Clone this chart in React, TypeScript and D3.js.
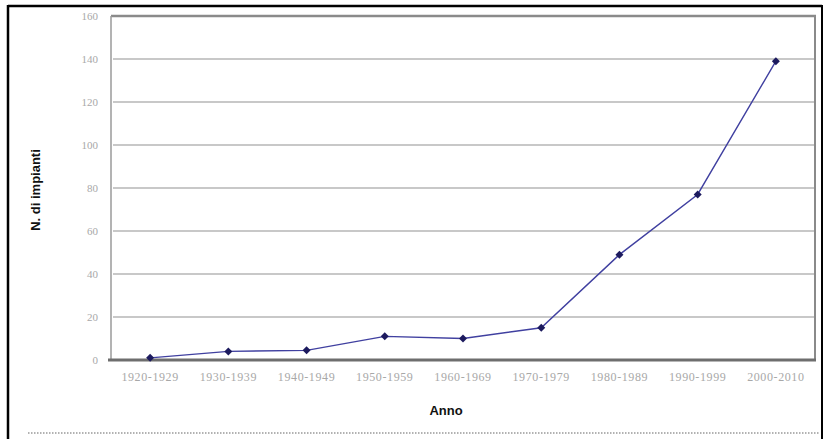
import React from "react";
import * as d3 from "d3";

const categories = [
  "1920-1929",
  "1930-1939",
  "1940-1949",
  "1950-1959",
  "1960-1969",
  "1970-1979",
  "1980-1989",
  "1990-1999",
  "2000-2010",
];
const values = [1, 4, 4.5, 11, 10, 15, 49, 77, 139];
const yTicks = [0, 20, 40, 60, 80, 100, 120, 140, 160];
const yTitle = "N. di impianti";
const xTitle = "Anno";

const W = 829;
const H = 439;
const M = { left: 111, right: 815, top: 16, bottom: 360 };

export default function App() {
  const x = d3.scaleBand<string>().domain(categories).range([M.left, M.right]).padding(0);
  const y = d3.scaleLinear().domain([0, 160]).range([M.bottom, M.top]);
  const cx = (c: string) => (x(c) ?? 0) + x.bandwidth() / 2;
  const line = d3
    .line<number>()
    .x((_, i) => cx(categories[i]))
    .y((d) => y(d));
  const r = 4;
  const diamond = `M0,${-r}L${r},0L0,${r}L${-r},0Z`;
  const sans = "'Liberation Sans', Arial, sans-serif";

  return (
    <svg
      width={W}
      height={H}
      style={{ position: "absolute", left: 0, top: 0, background: "#fff" }}
    >
      <rect x={0} y={0} width={W} height={H} fill="#fff" />
      {/* outer frame */}
      <line x1={8} y1={6} x2={822} y2={6} stroke="#000" strokeWidth={2.5} />
      <line x1={8} y1={5} x2={8} y2={H} stroke="#000" strokeWidth={2.5} />
      <line x1={822} y1={5} x2={822} y2={H} stroke="#000" strokeWidth={2} />
      {/* dotted line at bottom */}
      <line
        x1={28}
        y1={433}
        x2={820}
        y2={433}
        stroke="#999"
        strokeWidth={1.5}
        strokeDasharray="1.5,1.5"
      />

      {/* gridlines */}
      {yTicks
        .filter((t) => t > 0 && t < 160)
        .map((t) => (
          <line
            key={t}
            x1={M.left + 2}
            x2={M.right}
            y1={y(t)}
            y2={y(t)}
            stroke="#c8c8c8"
            strokeWidth={2}
          />
        ))}
      {/* plot borders */}
      <line x1={M.left} x2={M.right + 1} y1={M.top} y2={M.top} stroke="#8a8a8a" strokeWidth={2.5} />
      <line x1={M.right} x2={M.right} y1={M.top} y2={M.bottom} stroke="#8a8a8a" strokeWidth={2} />
      <line x1={M.left} x2={M.left} y1={M.top} y2={M.bottom} stroke="#9a9a9a" strokeWidth={1.5} />
      <line x1={M.left - 3} x2={M.right + 1} y1={M.bottom} y2={M.bottom} stroke="#6e6e6e" strokeWidth={3} />

      {/* y tick labels */}
      {yTicks.map((t) => (
        <text
          key={t}
          x={98}
          y={y(t)}
          dy="0.35em"
          textAnchor="end"
          fontFamily="'Liberation Serif', serif"
          fontSize={11}
          fill="#a8a8a8"
        >
          {t}
        </text>
      ))}

      {/* x tick labels */}
      {categories.map((c) => (
        <text
          key={c}
          x={cx(c)}
          y={381}
          textAnchor="middle"
          fontFamily="'Liberation Serif', serif"
          fontSize={12}
          letterSpacing={0.6}
          fill="#a8a8a8"
        >
          {c}
        </text>
      ))}

      {/* series */}
      <path d={line(values) ?? ""} fill="none" stroke="#4040a0" strokeWidth={1.4} />
      {values.map((v, i) => (
        <path
          key={i}
          d={diamond}
          transform={`translate(${cx(categories[i])},${y(v)})`}
          fill="#1c1a5e"
        />
      ))}

      {/* axis titles */}
      <text
        transform={`translate(40,190) rotate(-90)`}
        textAnchor="middle"
        fontFamily={sans}
        fontWeight="bold"
        fontSize={13}
        fill="#111"
      >
        {yTitle}
      </text>
      <text
        x={446}
        y={415}
        textAnchor="middle"
        fontFamily={sans}
        fontWeight="bold"
        fontSize={13}
        fill="#111"
      >
        {xTitle}
      </text>
    </svg>
  );
}
